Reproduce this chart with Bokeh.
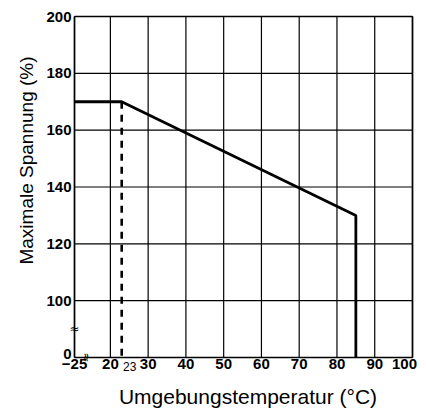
import math
from bokeh.plotting import figure
from bokeh.models import Range1d
from bokeh.core.properties import value
from bokeh.embed import file_html
from bokeh.resources import INLINE

# ---- data ----
temps = [-25, 23, 85, 85]            # Umgebungstemperatur (°C)
spannung = [170, 170, 130, 0]        # Maximale Spannung (%)
knee_temp = [23, 23]
knee_span = [170, 0]
x_tick_vals = [-25, 20, 30, 40, 50, 60, 70, 80, 90, 100]
x_tick_labels = ["\u221225", "20", "30", "40", "50", "60", "70", "80", "90", "100"]
y_tick_vals = [0, 100, 120, 140, 160, 180, 200]
y_tick_labels = ["0", "100", "120", "140", "160", "180", "200"]
x_break_val = -10
y_break_val = 50
x_title = "Umgebungstemperatur (\u00b0C)"
y_title = "Maximale Spannung (%)"

FONT = "Liberation Sans"

# broken-axis transforms (compress -25..20 and 0..100)
def tx(t):
    return 10.5 + (t + 25) * (9.5 / 45.0) if t <= 20 else t

def ty(v):
    return 80 + v * 0.2 if v <= 100 else v

# layout: the plotting frame covers the whole canvas; chart box is at
# x 74..412 px and y 16..357 px
W, H = 426, 410
X0, PXX = 74.0, (412.0 - 74.0) / (100 - tx(-25))
Y0, PXY = 357.0, (357.0 - 16.0) / (200 - ty(0))
def dx(px):  # screen px -> display x
    return tx(-25) + (px - X0) / PXX
def dy(py):  # screen px -> display y
    return ty(0) + (Y0 - py) / PXY

p = figure(width=W, height=H, output_backend="svg", toolbar_location=None, title=None,
           x_range=Range1d(dx(0), dx(W)), y_range=Range1d(dy(H), dy(0)),
           min_border=0, min_border_left=0, min_border_right=0,
           min_border_top=0, min_border_bottom=0)
p.axis.visible = False
p.grid.visible = False
p.outline_line_color = None
p.background_fill_color = "white"
p.border_fill_color = "white"

xt = [tx(t) for t in x_tick_vals]
yt = [ty(v) for v in y_tick_vals]

# grid lines
p.segment(x0=xt, y0=[ty(0)] * len(xt), x1=xt, y1=[200] * len(xt),
          line_color="black", line_width=1.2)
p.segment(x0=[tx(-25)] * len(yt), y0=yt, x1=[100] * len(yt), y1=yt,
          line_color="black", line_width=1.2)
# box edges slightly heavier
p.segment(x0=[tx(-25), 100, tx(-25), tx(-25)], y0=[ty(0), ty(0), 200, ty(0)],
          x1=[tx(-25), 100, 100, 100], y1=[200, 200, 200, ty(0)],
          line_color="black", line_width=1.6)

# curve
p.line([tx(t) for t in temps], [ty(v) for v in spannung], line_color="black", line_width=2.8)
# dashed marker at 23 °C
p.line([tx(t) for t in knee_temp], [ty(v) for v in knee_span], line_color="black",
       line_width=2.6, line_dash="7 6")

# x tick labels (the "100" label is pulled inside the canvas)
xl = list(xt)
xl[-1] = dx(404)
p.text(x=xl, y=[dy(358)] * len(xl), text=x_tick_labels, text_font=value(FONT),
       text_font_style="bold", text_font_size="15px", text_align="center",
       text_baseline="top", text_color="black")
# y tick labels (the "0" sits a little higher)
yl = list(yt)
yl[0] = dy(353)
p.text(x=[dx(71)] * len(yl), y=yl, text=y_tick_labels, text_font=value(FONT),
       text_font_style="bold", text_font_size="15px", text_align="right",
       text_baseline="middle", text_color="black")
# small "23" label
p.text(x=[tx(knee_temp[0])], y=[dy(361)], text=[str(knee_temp[0])], x_offset=8,
       text_font=value(FONT), text_font_size="12px", text_align="center",
       text_baseline="top", text_color="black")

# axis break marks
p.text(x=[tx(-25)], y=[ty(y_break_val)], text=["\u2248"], text_font=value("DejaVu Sans"),
       text_font_size="12px", text_align="center", text_baseline="middle", text_color="black")
p.text(x=[tx(x_break_val)], y=[ty(0)], text=["\u2248"], text_font=value("DejaVu Sans"),
       text_font_size="12px", text_align="center", text_baseline="middle",
       angle=math.pi / 2, text_color="black")

# axis titles
p.text(x=[dx(26)], y=[dy(160)], text=[y_title], angle=math.pi / 2, text_font=value(FONT),
       text_font_size="19px", text_align="center", text_baseline="middle", text_color="black")
p.text(x=[dx(247.5)], y=[dy(396)], text=[x_title], text_font=value(FONT),
       text_font_size="21px", text_align="center", text_baseline="middle",
       text_color="black")

open("out.html", "w").write(file_html(p, INLINE))
